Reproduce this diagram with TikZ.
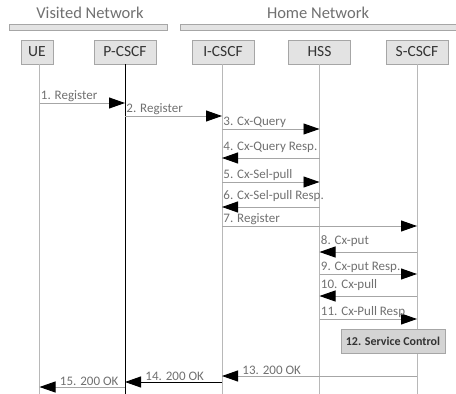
\documentclass[tikz,border=0pt]{standalone}
\usepackage{fontspec}
\setmainfont{Carlito}
\usetikzlibrary{arrows.meta}
\definecolor{boxgray}{HTML}{E3E3E3}
\definecolor{linegray}{HTML}{A6A6A6}
\definecolor{txtgray}{HTML}{707070}
\begin{document}
\begin{tikzpicture}[x=1pt, y=-1pt,
    entity/.style={draw=linegray, fill=boxgray, minimum width=62pt, minimum height=24pt,
      inner sep=0pt, text=black!80, font=\fontsize{15.5}{17}\selectfont},
    netbar/.style={draw=linegray, fill=boxgray, line width=0.6pt},
    lifeline/.style={draw=linegray!80, line width=1pt},
    msg/.style={draw=linegray, line width=0.9pt, -{Triangle[length=16pt, width=11pt, color=black, fill=black]}},
    msglabel/.style={anchor=south west, inner sep=1pt, text=txtgray, font=\fontsize{13}{14}\selectfont}]

    \useasboundingbox (0,0) rectangle (456,394);

    % networks
    \draw[netbar] (9,24) rectangle (167,30);
    \draw[netbar] (180,24) rectangle (458,30);
    \node[text=txtgray, font=\fontsize{16.5}{18}\selectfont] (visited) at (90,13) {Visited Network};
    \node[text=txtgray, font=\fontsize{16.5}{18}\selectfont] (home) at (318,13) {Home Network};

    % entities
    \node[entity, minimum width=32pt] (ue) at (37,52) {UE};
    \node[entity] (pcscf) at (125,52) {P-CSCF};
    \node[entity] (icscf) at (223,52) {I-CSCF};
    \node[entity] (hss) at (319.5,52) {HSS};
    \node[entity] (scscf) at (417,52) {S-CSCF};

    \draw[lifeline] (ue.south -| 39.5,0) -- (39.5,394);
    \draw[black, line width=0.6pt] (pcscf.south) -- (pcscf.south |- 0,394);
    \draw[lifeline] (icscf.south -| 222,0) -- (222,394);
    \draw[lifeline] (hss.south) -- (hss.south |- 0,394);
    \draw[lifeline] (scscf.south) -- (scscf.south |- 0,394);

    % messages
    \draw[msg] (39.5,103) -- (pcscf |- 0,103) node[msglabel, pos=0] {1. Register};
    \draw[msg] (pcscf |- 0,116) -- (222,116) node[msglabel, pos=0] {2. Register};
    \draw[msg] (222,129) -- (hss |- 0,129) node[msglabel, pos=0] {3. Cx-Query};
    \draw[msg] (hss |- 0,158) -- (222,158) node[msglabel, pos=1, yshift=4pt] {4. Cx-Query Resp.};
    \draw[msg] (222,182) -- (hss |- 0,182) node[msglabel, pos=0] {5. Cx-Sel-pull};
    \draw[msg] (hss |- 0,207) -- (222,207) node[msglabel, pos=1, yshift=4pt] {6. Cx-Sel-pull Resp.};
    \draw[msg] (222,226) -- (scscf |- 0,226) node[msglabel, pos=0] {7. Register};
    \draw[msg] (scscf |- 0,252) -- (hss |- 0,252) node[msglabel, pos=1, yshift=4pt] {8. Cx-put};
    \draw[msg] (hss |- 0,274) -- (scscf |- 0,274) node[msglabel, pos=0] {9. Cx-put Resp.};
    \draw[msg] (scscf |- 0,296) -- (hss |- 0,296) node[msglabel, pos=1, yshift=4pt] {10. Cx-pull};
    \draw[msg] (hss |- 0,319) -- (scscf |- 0,319) node[msglabel, pos=0] {11. Cx-Pull Resp};

    \node[draw=linegray, fill=boxgray!85!gray, minimum width=104pt, minimum height=24pt, inner sep=0pt,
      text=black!80, font=\fontsize{12}{13}\selectfont\bfseries] (service) at (393,341) {12. Service Control};

    \draw[msg] (scscf |- 0,376) -- (222,376) node[msglabel, pos=1, xshift=19pt] {13. 200 OK};
    \draw[msg, draw=black] (222,382) -- (pcscf |- 0,382) node[msglabel, pos=1, xshift=19pt] {14. 200 OK};
    \draw[msg] (pcscf |- 0,387) -- (39.5,387) node[msglabel, pos=1, xshift=19pt] {15. 200 OK};

\end{tikzpicture}
\end{document}
